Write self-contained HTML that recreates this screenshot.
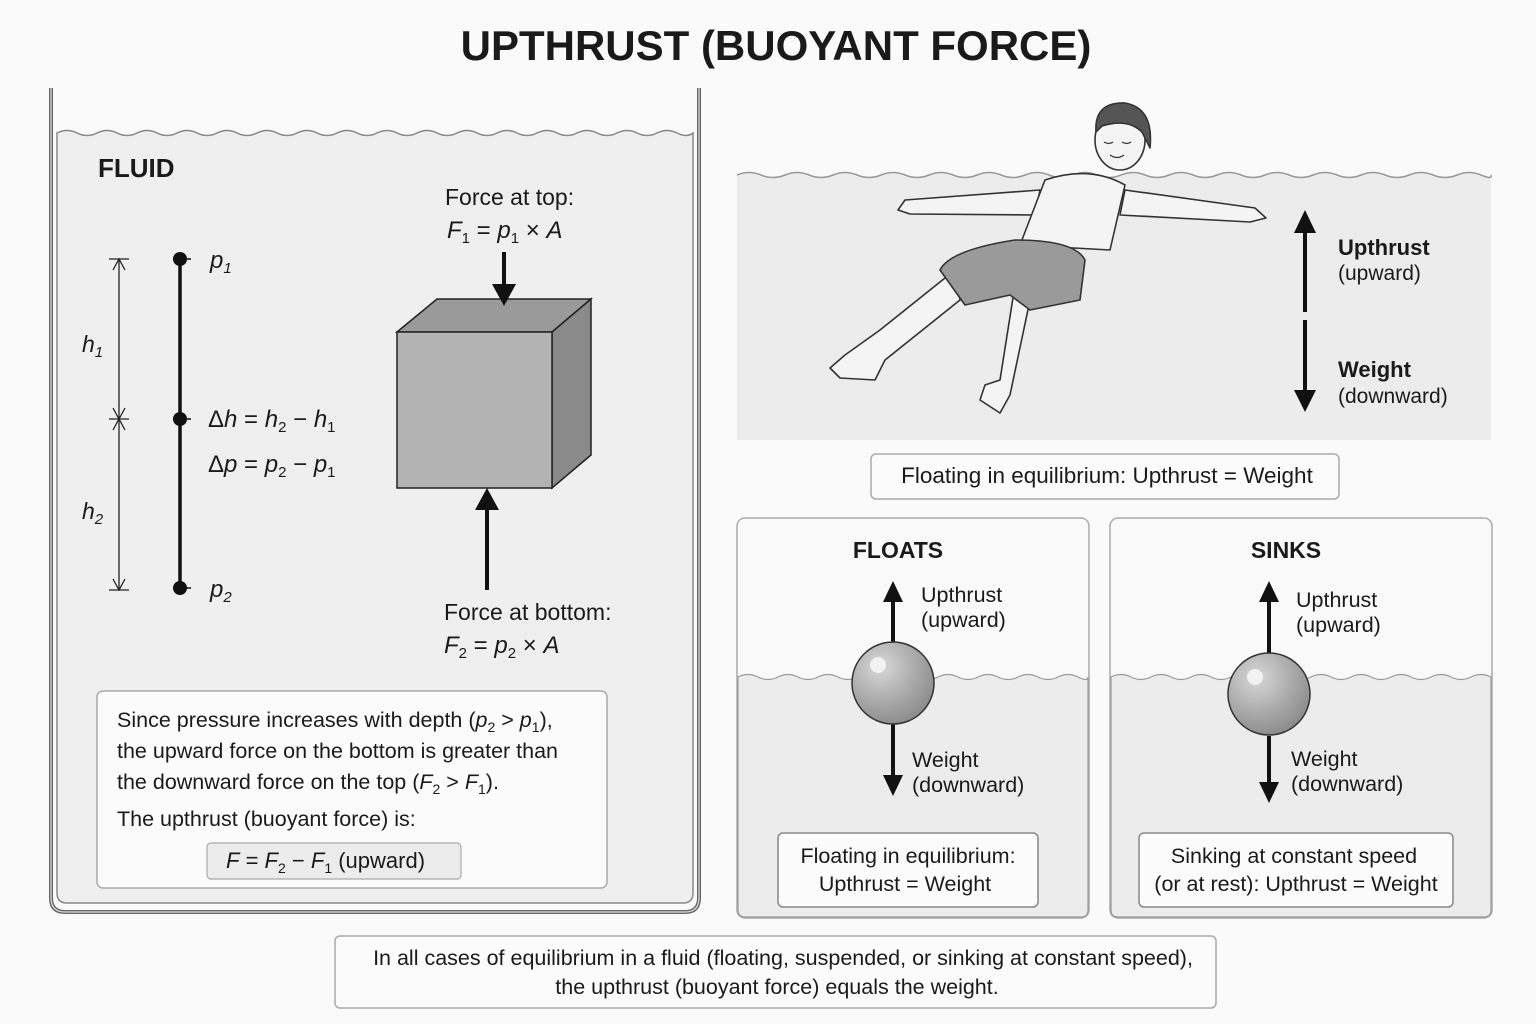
<!DOCTYPE html>
<html><head><meta charset="utf-8"><style>
html,body{margin:0;padding:0;background:#fafafa}
svg{display:block}
text{font-family:"Liberation Sans",sans-serif;fill:#1a1a1a}
.i{font-style:italic}
</style></head><body>
<svg width="1536" height="1024" viewBox="0 0 1536 1024" xmlns="http://www.w3.org/2000/svg">
<defs>
<radialGradient id="sph" cx="0.35" cy="0.3" r="0.75"><stop offset="0" stop-color="#d8d8d8"/><stop offset="0.6" stop-color="#a8a8a8"/><stop offset="1" stop-color="#8a8a8a"/></radialGradient>
</defs>
<text x="776" y="60" font-size="42" font-weight="bold" text-anchor="middle">UPTHRUST (BUOYANT FORCE)</text>

<!-- tank -->
<path d="M57,133 q10,-5 20,0 t20,0 t20,0 t20,0 t20,0 t20,0 t20,0 t20,0 t20,0 t20,0 t20,0 t20,0 t20,0 t20,0 t20,0 t20,0 t20,0 t20,0 t20,0 t20,0 t20,0 t20,0 t20,0 t20,0 t20,0 t20,0 t20,0 t20,0 t20,0 t20,0 t20,0 t16,0 L693,893 q0,10 -10,10 L67,903 q-10,0 -10,-10 z" fill="#efefef" stroke="#888" stroke-width="1.5"/>
<path d="M51,88 L51,898 q0,14 14,14 L685,912 q14,0 14,-14 L699,88" fill="none" stroke="#666" stroke-width="4"/>
<path d="M51,88 L51,898 q0,14 14,14 L685,912 q14,0 14,-14 L699,88" fill="none" stroke="#ddd" stroke-width="1.2"/>
<text x="98" y="177" font-size="26" font-weight="bold">FLUID</text>

<!-- dimension -->
<g stroke="#222" stroke-width="1.3" fill="none">
<line x1="119" y1="259" x2="119" y2="590"/>
<line x1="109" y1="259" x2="129" y2="259"/><line x1="109" y1="590" x2="129" y2="590"/>
<line x1="109" y1="419" x2="129" y2="419"/>
<path d="M113,270 L119,259 L125,270 M113,408 L119,419 L125,408 M113,430 L119,419 L125,430 M113,579 L119,590 L125,579"/>
</g>
<text x="82" y="352" font-size="23" class="i">h<tspan font-size="15" dy="5">1</tspan></text>
<text x="82" y="519" font-size="23" class="i">h<tspan font-size="15" dy="5">2</tspan></text>
<line x1="180" y1="259" x2="180" y2="588" stroke="#111" stroke-width="3.5"/>
<g fill="#111"><circle cx="180" cy="259" r="7"/><circle cx="180" cy="419" r="7"/><circle cx="180" cy="588" r="7"/></g>
<g stroke="#111" stroke-width="1.5"><line x1="180" y1="259" x2="191" y2="259"/><line x1="180" y1="419" x2="191" y2="419"/><line x1="180" y1="588" x2="191" y2="588"/></g>
<text x="210" y="268" font-size="24" class="i">p<tspan font-size="15" dy="5">1</tspan></text>
<text x="208" y="427" font-size="24"><tspan>Δ</tspan><tspan class="i">h</tspan> = <tspan class="i">h</tspan><tspan font-size="15" dy="5">2</tspan><tspan dy="-5"> − </tspan><tspan class="i">h</tspan><tspan font-size="15" dy="5">1</tspan></text>
<text x="208" y="472" font-size="24"><tspan>Δ</tspan><tspan class="i">p</tspan> = <tspan class="i">p</tspan><tspan font-size="15" dy="5">2</tspan><tspan dy="-5"> − </tspan><tspan class="i">p</tspan><tspan font-size="15" dy="5">1</tspan></text>
<text x="210" y="597" font-size="24" class="i">p<tspan font-size="15" dy="5">2</tspan></text>

<!-- cube -->
<path d="M397,332 L437,299 L591,299 L552,332 z" fill="#9a9a9a" stroke="#222" stroke-width="1.5"/>
<path d="M552,332 L591,299 L591,455 L552,488 z" fill="#8a8a8a" stroke="#222" stroke-width="1.5"/>
<rect x="397" y="332" width="155" height="156" fill="#b3b3b3" stroke="#222" stroke-width="1.5"/>
<line x1="504" y1="252" x2="504" y2="290" stroke="#111" stroke-width="4"/>
<path d="M492,284 L516,284 L504,306 z" fill="#111"/>
<line x1="487" y1="590" x2="487" y2="505" stroke="#111" stroke-width="4"/>
<path d="M475,510 L499,510 L487,488 z" fill="#111"/>
<text x="445" y="205" font-size="23">Force at top:</text>
<text x="447" y="238" font-size="24"><tspan class="i">F</tspan><tspan font-size="15" dy="5">1</tspan><tspan dy="-5"> = </tspan><tspan class="i">p</tspan><tspan font-size="15" dy="5">1</tspan><tspan dy="-5"> × </tspan><tspan class="i">A</tspan></text>
<text x="444" y="620" font-size="23">Force at bottom:</text>
<text x="444" y="653" font-size="24"><tspan class="i">F</tspan><tspan font-size="15" dy="5">2</tspan><tspan dy="-5"> = </tspan><tspan class="i">p</tspan><tspan font-size="15" dy="5">2</tspan><tspan dy="-5"> × </tspan><tspan class="i">A</tspan></text>

<rect x="97" y="691" width="510" height="197" rx="6" fill="#fbfbfb" stroke="#aaa" stroke-width="1.5"/>
<g font-size="21.5">
<text x="117" y="727">Since pressure increases with depth (<tspan class="i">p</tspan><tspan font-size="14" dy="5">2</tspan><tspan dy="-5"> &gt; </tspan><tspan class="i">p</tspan><tspan font-size="14" dy="5">1</tspan><tspan dy="-5">),</tspan></text>
<text x="117" y="758">the upward force on the bottom is greater than</text>
<text x="117" y="789">the downward force on the top (<tspan class="i">F</tspan><tspan font-size="14" dy="5">2</tspan><tspan dy="-5"> &gt; </tspan><tspan class="i">F</tspan><tspan font-size="14" dy="5">1</tspan><tspan dy="-5">).</tspan></text>
<text x="117" y="826">The upthrust (buoyant force) is:</text>
</g>
<rect x="207" y="843" width="254" height="36" rx="4" fill="#ececec" stroke="#aaa" stroke-width="1.2"/>
<text x="226" y="868" font-size="22"><tspan class="i">F</tspan> = <tspan class="i">F</tspan><tspan font-size="14" dy="5">2</tspan><tspan dy="-5"> − </tspan><tspan class="i">F</tspan><tspan font-size="14" dy="5">1</tspan><tspan dy="-5">   (upward)</tspan></text>

<!-- right top water -->
<path d="M737,175 q12,-5 24,0 t24,0 t24,0 t24,0 t24,0 t24,0 t24,0 t24,0 t24,0 t24,0 t24,0 t24,0 t24,0 t24,0 t24,0 t24,0 t24,0 t24,0 t24,0 t24,0 t24,0 t24,0 t24,0 t24,0 t24,0 t24,0 t24,0 t24,0 t24,0 t24,0 t24,0 t10,0 L1491,440 L737,440 z" fill="#ececec"/>
<path d="M737,175 q12,-5 24,0 t24,0 t24,0 t24,0 t24,0 t24,0 t24,0 t24,0 t24,0 t24,0 t24,0 t24,0 t24,0 t24,0 t24,0 t24,0 t24,0 t24,0 t24,0 t24,0 t24,0 t24,0 t24,0 t24,0 t24,0 t24,0 t24,0 t24,0 t24,0 t24,0 t24,0 t10,0" fill="none" stroke="#999" stroke-width="1.5"/>
<!-- person -->
<g stroke="#333" stroke-width="1.6" fill="#f4f4f4" stroke-linejoin="round">
<path d="M1040,190 L905,200 L898,210 L910,214 L1035,215 Z"/>
<path d="M1125,190 L1255,208 L1266,218 L1250,222 L1120,215 Z"/>
<path d="M1045,180 Q1090,165 1125,185 L1110,250 L1020,245 Z"/>
<path d="M955,270 L880,330 L845,355 L830,368 L840,378 L875,380 L885,360 L960,300 Z"/>
<path d="M1015,285 L1000,380 L985,385 L980,400 L1000,413 L1010,395 L1030,300 Z"/>
<path d="M1015,240 Q950,250 940,270 L965,305 L1010,295 L1030,310 L1080,300 L1085,260 Q1075,240 1015,240 Z" fill="#9a9a9a"/>
<ellipse cx="1120" cy="140" rx="25" ry="30"/>
<path d="M1096,132 Q1094,102 1125,103 Q1154,108 1150,148 L1142,132 Q1128,118 1102,126 Z" fill="#555"/>
<path d="M1104,142 q5,3 9,0 M1122,142 q5,3 9,0 M1110,155 q7,5 14,0" fill="none" stroke-width="1.2"/>
</g>
<line x1="1305" y1="312" x2="1305" y2="230" stroke="#111" stroke-width="4"/>
<path d="M1294,233 L1316,233 L1305,210 z" fill="#111"/>
<line x1="1305" y1="320" x2="1305" y2="392" stroke="#111" stroke-width="4"/>
<path d="M1294,390 L1316,390 L1305,412 z" fill="#111"/>
<text x="1338" y="255" font-size="22" font-weight="bold">Upthrust</text>
<text x="1338" y="280" font-size="21">(upward)</text>
<text x="1338" y="377" font-size="22" font-weight="bold">Weight</text>
<text x="1338" y="403" font-size="21">(downward)</text>
<rect x="871" y="454" width="468" height="45" rx="5" fill="#fbfbfb" stroke="#aaa" stroke-width="1.5"/>
<text x="1107" y="483" font-size="22.5" text-anchor="middle">Floating in equilibrium: Upthrust = Weight</text>

<!-- floats -->
<rect x="737" y="518" width="352" height="400" rx="8" fill="#f9f9f9" stroke="#aaa" stroke-width="1.5"/>
<path d="M738,677 q10,-5 20,0 t20,0 t20,0 t20,0 t20,0 t20,0 t20,0 t20,0 t20,0 t20,0 t20,0 t20,0 t20,0 t20,0 t20,0 t20,0 t20,0 t10,0 L1088,910 q0,7 -7,7 L745,917 q-7,0 -7,-7 z" fill="#ececec" stroke="#999" stroke-width="1.2"/>
<text x="898" y="558" font-size="23" font-weight="bold" text-anchor="middle">FLOATS</text>
<line x1="893" y1="643" x2="893" y2="600" stroke="#111" stroke-width="4"/><path d="M883,602 L903,602 L893,581 z" fill="#111"/>
<line x1="893" y1="724" x2="893" y2="778" stroke="#111" stroke-width="4"/><path d="M883,775 L903,775 L893,796 z" fill="#111"/>
<circle cx="893" cy="683" r="41" fill="url(#sph)" stroke="#333" stroke-width="1.5"/>
<circle cx="878" cy="665" r="8" fill="#f2f2f2"/>
<g font-size="21.5"><text x="921" y="602">Upthrust</text><text x="921" y="627">(upward)</text><text x="912" y="767">Weight</text><text x="912" y="792">(downward)</text></g>
<rect x="778" y="833" width="260" height="74" rx="5" fill="#fbfbfb" stroke="#888" stroke-width="1.5"/>
<text x="908" y="863" font-size="21.5" text-anchor="middle">Floating in equilibrium:</text>
<text x="905" y="891" font-size="21.5" text-anchor="middle">Upthrust = Weight</text>

<!-- sinks -->
<rect x="1110" y="518" width="382" height="400" rx="8" fill="#f9f9f9" stroke="#aaa" stroke-width="1.5"/>
<path d="M1111,677 q10,-5 20,0 t20,0 t20,0 t20,0 t20,0 t20,0 t20,0 t20,0 t20,0 t20,0 t20,0 t20,0 t20,0 t20,0 t20,0 t20,0 t20,0 t20,0 t20,0 L1491,677 L1491,910 q0,7 -7,7 L1118,917 q-7,0 -7,-7 z" fill="#ececec" stroke="#999" stroke-width="1.2"/>
<text x="1286" y="558" font-size="23" font-weight="bold" text-anchor="middle">SINKS</text>
<line x1="1269" y1="654" x2="1269" y2="600" stroke="#111" stroke-width="4"/><path d="M1259,602 L1279,602 L1269,581 z" fill="#111"/>
<line x1="1269" y1="736" x2="1269" y2="785" stroke="#111" stroke-width="4"/><path d="M1259,782 L1279,782 L1269,803 z" fill="#111"/>
<circle cx="1269" cy="694" r="41" fill="url(#sph)" stroke="#333" stroke-width="1.5"/>
<circle cx="1255" cy="677" r="8" fill="#f2f2f2"/>
<g font-size="21.5"><text x="1296" y="607">Upthrust</text><text x="1296" y="632">(upward)</text><text x="1291" y="766">Weight</text><text x="1291" y="791">(downward)</text></g>
<rect x="1139" y="833" width="314" height="74" rx="5" fill="#fbfbfb" stroke="#888" stroke-width="1.5"/>
<text x="1294" y="863" font-size="21.5" text-anchor="middle">Sinking at constant speed</text>
<text x="1296" y="891" font-size="21.5" text-anchor="middle">(or at rest): Upthrust = Weight</text>

<!-- bottom -->
<rect x="335" y="936" width="881" height="72" rx="5" fill="#fbfbfb" stroke="#aaa" stroke-width="1.5"/>
<text x="783" y="965" font-size="21.5" text-anchor="middle">In all cases of equilibrium in a fluid (floating, suspended, or sinking at constant speed),</text>
<text x="777" y="994" font-size="21.5" text-anchor="middle">the upthrust (buoyant force) equals the weight.</text>
</svg>
</body></html>
